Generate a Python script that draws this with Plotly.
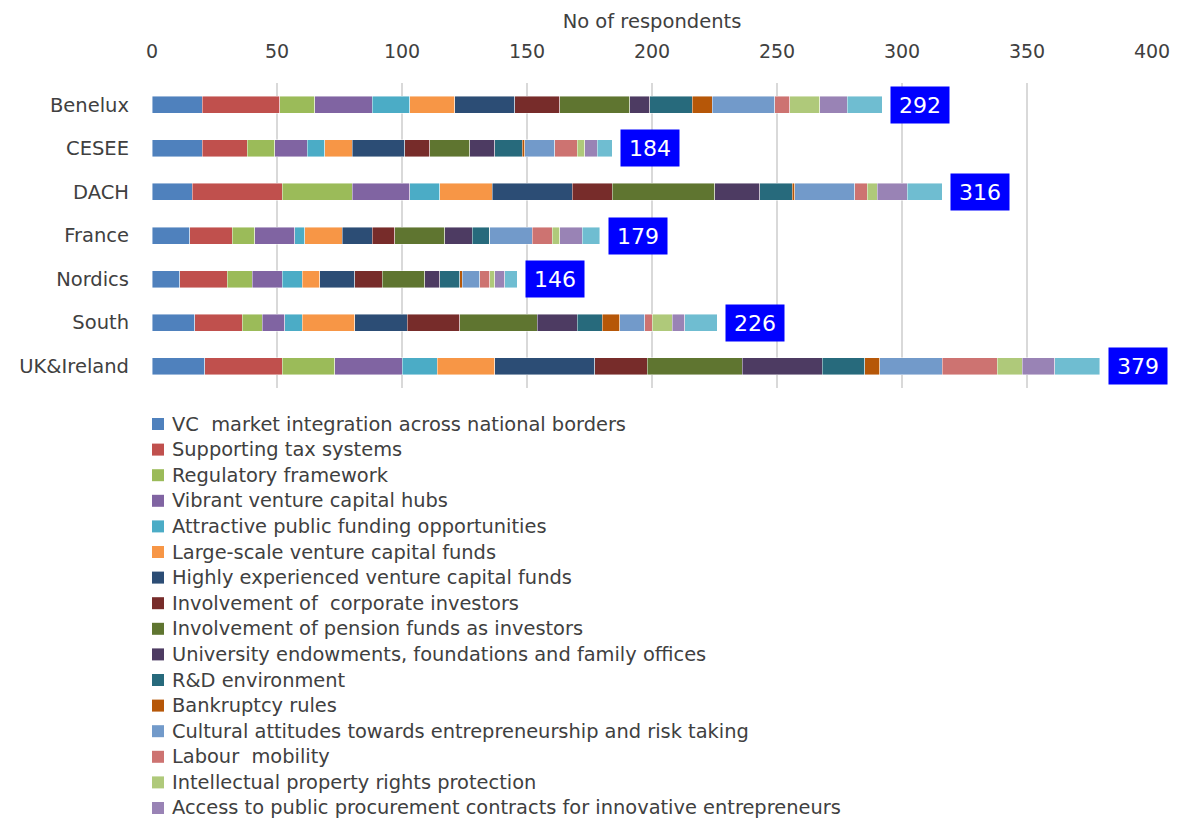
import plotly.graph_objects as go

regions = ["Benelux", "CESEE", "DACH", "France", "Nordics", "South", "UK&Ireland"]

factors = [
    "VC  market integration across national borders",
    "Supporting tax systems",
    "Regulatory framework",
    "Vibrant venture capital hubs",
    "Attractive public funding opportunities",
    "Large-scale venture capital funds",
    "Highly experienced venture capital funds",
    "Involvement of  corporate investors",
    "Involvement of pension funds as investors",
    "University endowments, foundations and family offices",
    "R&D environment",
    "Bankruptcy rules",
    "Cultural attitudes towards entrepreneurship and risk taking",
    "Labour  mobility",
    "Intellectual property rights protection",
    "Access to public procurement contracts for innovative entrepreneurs",
    "Other",
]

colors = [
    "#4F81BD", "#C0504D", "#9BBB59", "#8064A2", "#4BACC6", "#F79646",
    "#2C4D75", "#772C2A", "#5F7530", "#4D3B62", "#276A7C", "#B65708",
    "#729ACA", "#CD7371", "#AFC97A", "#9983B5", "#6FBDD1",
]

# respondents per factor, one list per region (order follows `factors`)
benelux = [20, 31, 14, 23, 15, 18, 24, 18, 28, 8, 17, 8, 25, 6, 12, 11, 14]
cesee = [20, 18, 11, 13, 7, 11, 21, 10, 16, 10, 11, 1, 12, 9, 3, 5, 6]
dach = [16, 36, 28, 23, 12, 21, 32, 16, 41, 18, 13, 1, 24, 5, 4, 12, 14]
france = [15, 17, 9, 16, 4, 15, 12, 9, 20, 11, 7, 0, 17, 8, 3, 9, 7]
nordics = [11, 19, 10, 12, 8, 7, 14, 11, 17, 6, 8, 1, 7, 4, 2, 4, 5]
south = [17, 19, 8, 9, 7, 21, 21, 21, 31, 16, 10, 7, 10, 3, 8, 5, 13]
uk_ireland = [21, 31, 21, 27, 14, 23, 40, 21, 38, 32, 17, 6, 25, 22, 10, 13, 18]

totals = [292, 184, 316, 179, 146, 226, 379]

region_values = [benelux, cesee, dach, france, nordics, south, uk_ireland]

FONT = "DejaVu Sans"
TEXT = "#404040"

W, H = 1179, 821
M_L, M_R, M_T, M_B = 152, 27, 83, 433
PLOT_W = W - M_L - M_R
PLOT_H = H - M_T - M_B


def paper_x(px):
    return (px - M_L) / PLOT_W


def paper_y(py):
    return (H - M_B - py) / PLOT_H


fig = go.Figure()
for i, name in enumerate(factors):
    fig.add_trace(go.Bar(
        y=regions,
        x=[vals[i] for vals in region_values],
        name=name,
        orientation="h",
        marker=dict(color=colors[i], line=dict(color="rgba(255,255,255,0.55)", width=0.8)),
        showlegend=False,
        hoverinfo="x+name",
    ))

# total respondents at the end of each bar
for reg, tot in zip(regions, totals):
    fig.add_annotation(
        x=tot, y=reg, xref="x", yref="y",
        text=str(tot), showarrow=False,
        xanchor="left", xshift=8,
        bgcolor="#0000FF", width=54, height=32, borderpad=2,
        font=dict(family=FONT, size=22, color="white"),
    )

# key below the chart: one swatch and label per factor
ROW0, ROW_STEP = 424, 25.6
for i, name in enumerate(factors[:16]):
    cy = ROW0 + ROW_STEP * i
    fig.add_shape(
        type="rect", xref="paper", yref="paper",
        x0=paper_x(152), x1=paper_x(164), y0=paper_y(cy + 6), y1=paper_y(cy - 6),
        fillcolor=colors[i], line=dict(width=0),
    )
    fig.add_annotation(
        x=paper_x(170), y=paper_y(cy), xref="paper", yref="paper",
        text=name, showarrow=False, xanchor="left", yanchor="middle",
        font=dict(family=FONT, size=19.4, color=TEXT),
    )

fig.update_layout(
    template="none",
    width=W, height=H,
    barmode="stack", bargap=0.61,
    plot_bgcolor="white", paper_bgcolor="white",
    margin=dict(l=M_L, r=M_R, t=M_T, b=M_B, autoexpand=False),
    font=dict(family=FONT, size=19.5, color=TEXT),
    showlegend=False,
    xaxis=dict(
        side="top", range=[0, 400], dtick=50, tick0=0,
        showgrid=True, gridcolor="#D9D9D9", gridwidth=2,
        zeroline=False, showline=False, ticks="", automargin=False,
        ticklabelstandoff=20,
        tickfont=dict(size=19, color=TEXT),
        title=dict(text="No of respondents", font=dict(size=19.5, color=TEXT), standoff=6),
    ),
    yaxis=dict(
        autorange="reversed", showgrid=False, zeroline=False, showline=False,
        ticks="", ticklabelstandoff=22, automargin=False,
        tickfont=dict(size=19.5, color=TEXT),
    ),
)

fig.write_html("out.html")
